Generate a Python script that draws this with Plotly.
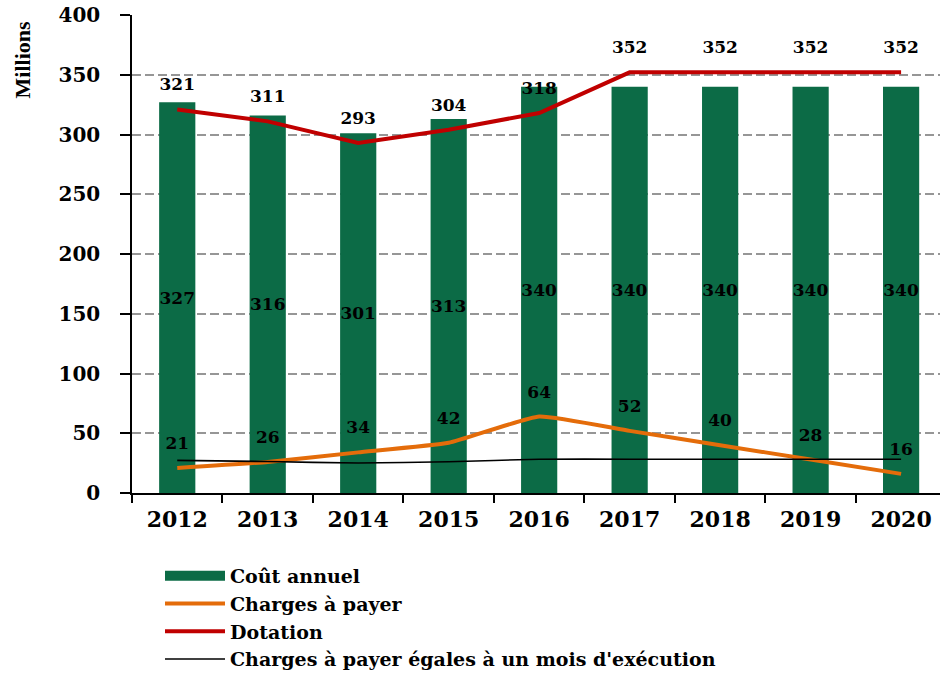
import plotly.graph_objects as go

# Data (millions)
years = ["2012", "2013", "2014", "2015", "2016", "2017", "2018", "2019", "2020"]
cout_annuel = [327, 316, 301, 313, 340, 340, 340, 340, 340]
charges_a_payer = [21, 26, 34, 42, 64, 52, 40, 28, 16]
dotation = [321, 311, 293, 304, 318, 352, 352, 352, 352]
charges_un_mois = [27.3, 26.3, 25.1, 26.1, 28.3, 28.3, 28.3, 28.3, 28.3]
y_ticks = [0, 50, 100, 150, 200, 250, 300, 350, 400]

GREEN = "#0C6B46"
ORANGE = "#E46C0A"
RED = "#C00000"
SERIF = "DejaVu Serif"
LABEL_FONT = dict(family=SERIF, size=17, color="black", weight="bold")
# invisible markers keep the value labels clear of the line
SPACER = dict(size=22, color="rgba(0,0,0,0)")

fig = go.Figure()

# Annual cost bars, value written in the middle of each bar
fig.add_trace(go.Bar(
    x=years, y=cout_annuel, name="Coût annuel",
    marker=dict(color=GREEN, line=dict(width=0)),
    width=0.4,
    text=[str(v) for v in cout_annuel],
    textposition="inside", insidetextanchor="middle", constraintext="none",
    textangle=0, textfont=LABEL_FONT,
    showlegend=False,
))
# Legend swatch for the bars (wide green block)
fig.add_trace(go.Scatter(
    x=[None], y=[None], mode="lines", name="Coût annuel",
    line=dict(color=GREEN, width=12),
))

fig.add_trace(go.Scatter(
    x=years, y=charges_a_payer, name="Charges à payer",
    mode="lines+markers+text", marker=SPACER,
    line=dict(color=ORANGE, width=4, shape="spline", smoothing=0.4),
    text=[str(v) for v in charges_a_payer], textposition="top center",
    textfont=LABEL_FONT,
))

fig.add_trace(go.Scatter(
    x=years, y=dotation, name="Dotation",
    mode="lines+markers+text", marker=SPACER,
    line=dict(color=RED, width=4),
    text=[str(v) for v in dotation], textposition="top center",
    textfont=LABEL_FONT,
))

fig.add_trace(go.Scatter(
    x=years, y=charges_un_mois,
    name="Charges à payer égales à un mois d'exécution",
    mode="lines",
    line=dict(color="black", width=1.6, shape="spline", smoothing=0.5),
))

fig.update_layout(
    width=940, height=675,
    margin=dict(l=132, r=0, t=15, b=182, autoexpand=False),
    paper_bgcolor="white", plot_bgcolor="white",
    font=dict(family=SERIF, color="black"),
    hovermode=False,
    bargap=0.6,
    legend=dict(
        xref="container", yref="container",
        x=160 / 940, xanchor="left", y=1 - 557 / 675, yanchor="top",
        bgcolor="rgba(0,0,0,0)", itemwidth=60,
        font=dict(family=SERIF, size=19, color="black", weight="bold"),
        tracegroupgap=0,
    ),
    xaxis=dict(
        type="category", range=[-0.5, 8.43],
        showline=True, linecolor="black", linewidth=1.5,
        ticks="outside", tickson="boundaries", ticklen=8,
        tickcolor="black", tickwidth=1.5,
        ticklabelstandoff=6,
        tickfont=dict(family=SERIF, size=22, color="black", weight="bold"),
        showgrid=False, zeroline=False,
    ),
    yaxis=dict(
        range=[0, 400], tickvals=y_ticks,
        showline=True, linecolor="black", linewidth=1.5,
        ticks="outside", ticklen=10, tickcolor="black", tickwidth=1.5,
        ticklabelstandoff=16,
        tickfont=dict(family=SERIF, size=20, color="black", weight="bold"),
        showgrid=True, gridcolor="#969696", gridwidth=2, griddash="9px,4px",
        zeroline=False,
    ),
    annotations=[dict(
        text="Millions", textangle=-90, showarrow=False,
        xref="paper", yref="paper", x=-0.136, y=0.99,
        xanchor="center", yanchor="top",
        font=dict(family="Liberation Serif", size=22, color="black", weight="bold"),
    )],
)

fig.write_html("out.html")
